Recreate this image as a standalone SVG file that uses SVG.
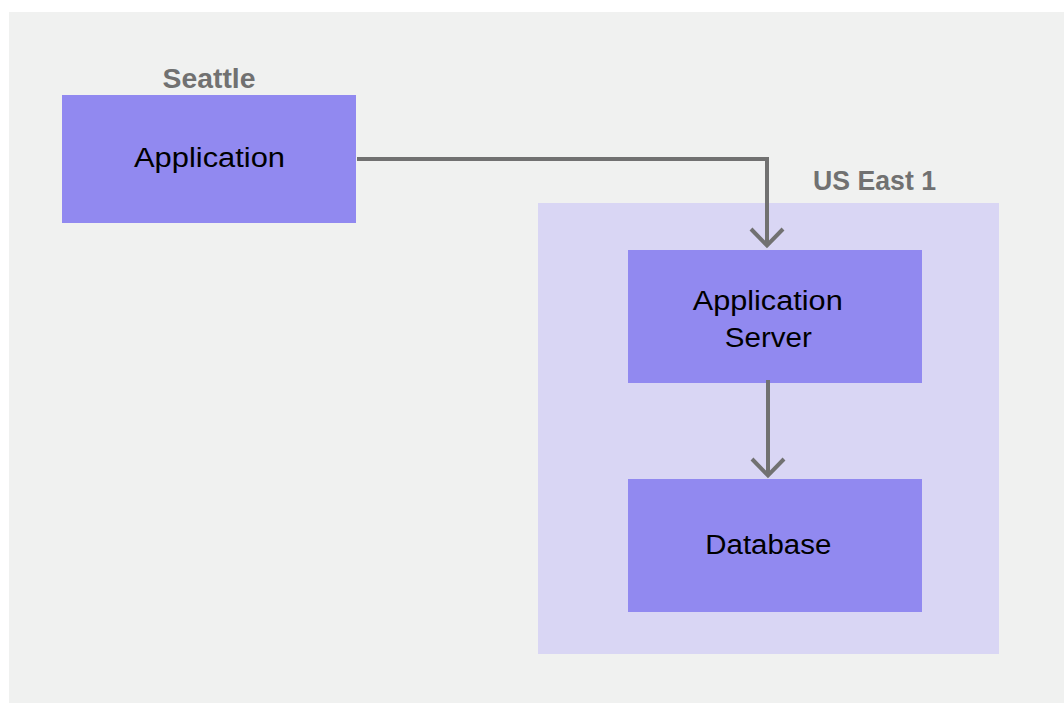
<svg xmlns="http://www.w3.org/2000/svg" width="1064" height="703" viewBox="0 0 1064 703">
  <defs>
    <style>
      .box { fill: #9189f0; }
      .region { fill: #d9d6f4; }
      .label { font-family: "Liberation Sans", Arial, sans-serif; font-size: 27px; fill: #000000; text-anchor: middle; }
      .group-label { font-family: "Liberation Sans", Arial, sans-serif; font-size: 27px; font-weight: bold; fill: #717171; text-anchor: middle; }
      .conn { fill: none; stroke: #717171; stroke-width: 4; }
      .head { fill: none; stroke: #717171; stroke-width: 4; stroke-linecap: butt; stroke-linejoin: miter; }
    </style>
  </defs>
  <rect x="0" y="0" width="1064" height="703" fill="#ffffff"/>
  <rect x="9" y="12" width="1055" height="691" fill="#f0f1f0"/>

  <g id="us-east-1">
    <rect class="region" x="538" y="203" width="461" height="451"/>
    <text class="group-label" x="874.5" y="190" textLength="123" lengthAdjust="spacingAndGlyphs">US East 1</text>
  </g>

  <g id="seattle">
    <text class="group-label" x="209" y="88" textLength="93" lengthAdjust="spacingAndGlyphs">Seattle</text>
  </g>

  <g id="application">
    <rect class="box" x="62" y="95" width="294" height="128"/>
    <text class="label" x="209.5" y="166.5" textLength="151" lengthAdjust="spacingAndGlyphs">Application</text>
  </g>

  <g id="application-server">
    <rect class="box" x="628" y="250" width="294" height="133"/>
    <text class="label" x="767.7" y="310" textLength="150" lengthAdjust="spacingAndGlyphs">Application</text>
    <text class="label" x="768.3" y="346.5" textLength="87" lengthAdjust="spacingAndGlyphs">Server</text>
  </g>

  <g id="database">
    <rect class="box" x="628" y="479" width="294" height="133"/>
    <text class="label" x="768.3" y="554" textLength="126" lengthAdjust="spacingAndGlyphs">Database</text>
  </g>

  <g id="connectors">
    <path class="conn" d="M357 159 H767 V245"/>
    <path class="head" d="M751 229 L767 245.5 L783 229"/>
    <path class="conn" d="M768 380 V476"/>
    <path class="head" d="M752 459 L768 475.5 L784 459"/>
  </g>
</svg>
